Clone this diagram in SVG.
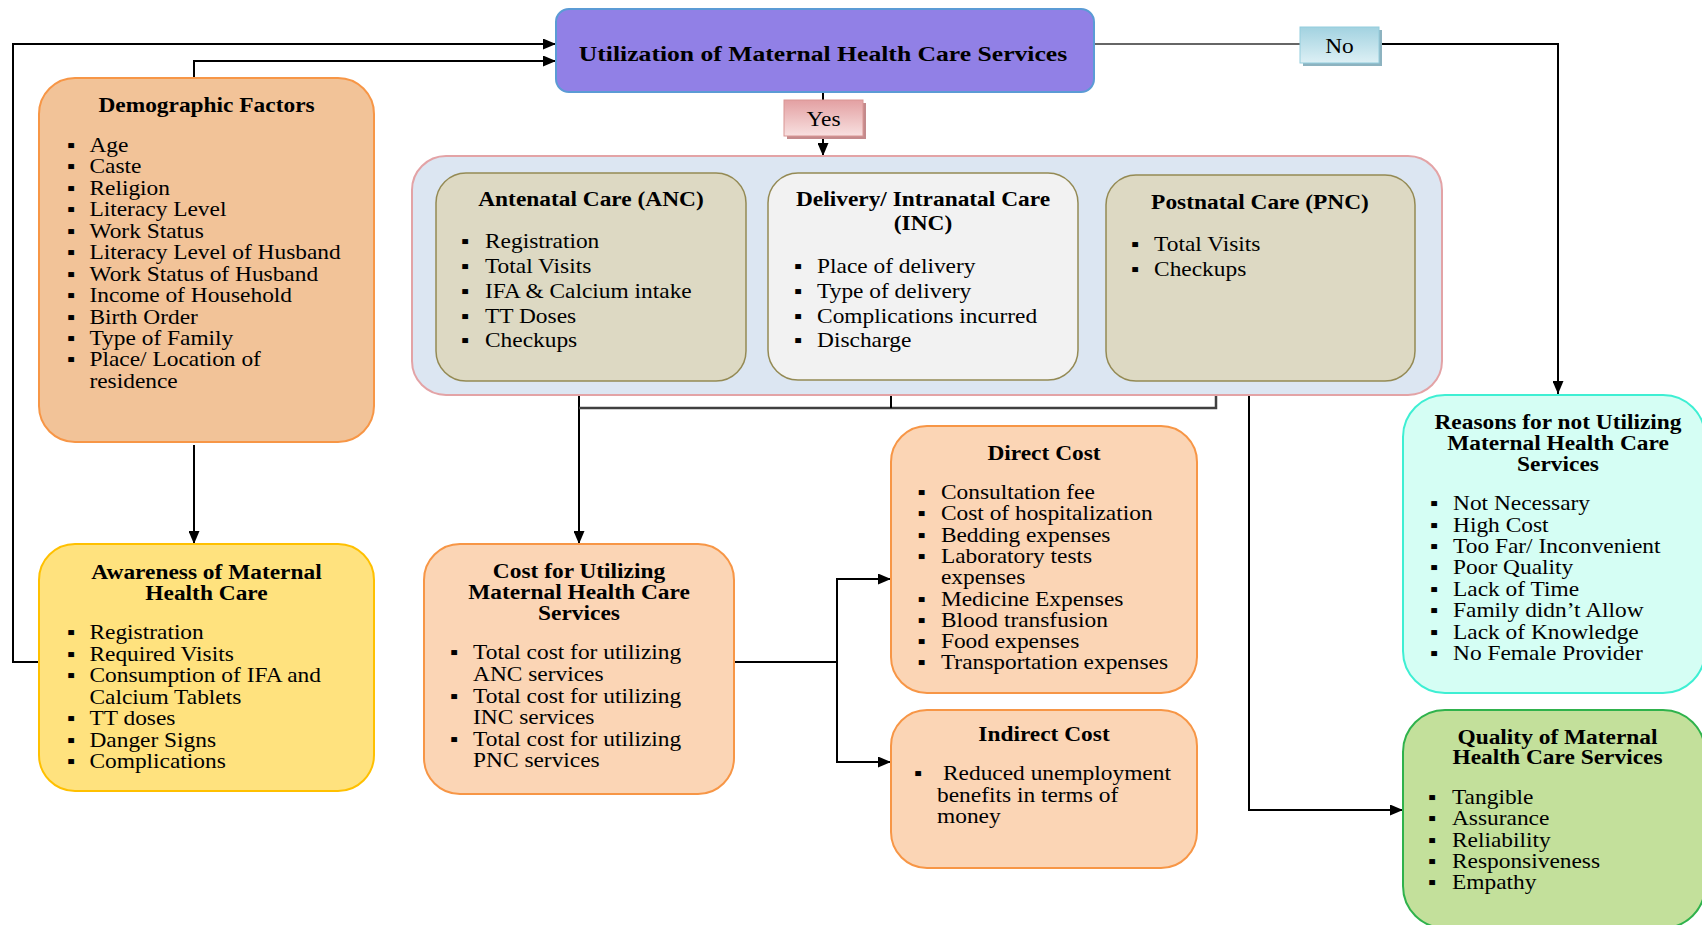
<svg xmlns="http://www.w3.org/2000/svg" width="1702" height="925" viewBox="0 0 1702 925">
<defs>
<style>
text{font-family:"Liberation Serif","Times New Roman",serif;font-size:20px;fill:#000}
.h{font-weight:bold;text-anchor:middle}
.ln{fill:none;stroke:#000;stroke-width:2}
.lg{fill:none;stroke:#404040;stroke-width:2.5}
.ar{marker-end:url(#ah)}
.peach{fill:#FBD5B5;stroke:#F79646;stroke-width:2}
.olive{fill:#DDD9C3;stroke:#948A54;stroke-width:1.5}
</style>
<marker id="ah" markerUnits="userSpaceOnUse" markerWidth="13" markerHeight="11" refX="13" refY="5.5" orient="auto"><path d="M0,0L13,5.5L0,11z" fill="#000"/></marker>
<linearGradient id="gy" x1="0" y1="0" x2="0" y2="1"><stop offset="0" stop-color="#E3A0A2"/><stop offset="1" stop-color="#F8E0E0"/></linearGradient>
<linearGradient id="gn" x1="0" y1="0" x2="0" y2="1"><stop offset="0" stop-color="#A2D2E0"/><stop offset="1" stop-color="#DDF0F5"/></linearGradient>
</defs>
<rect width="1702" height="925" fill="#fff"/>

<g id="connectors">
<path class="ln ar" d="M39,662H13V44H556"/>
<path class="ln ar" d="M194,78V61H556"/>
<path class="ln ar" d="M194,445V544"/>
<path class="ln" d="M823,92V100"/>
<path class="ln ar" d="M823,137V156"/>
<path class="ln" d="M1094,44H1300" style="stroke:#333;stroke-width:1.5"/>
<path class="ln ar" d="M1379,44H1558V394"/>
<path class="ln ar" d="M579,381V544"/>
<path class="lg" d="M579,408H1216V381"/>
<path class="ln" d="M891,380V408"/>
<path class="ln ar" d="M1249,395V810H1403"/>
<path class="ln" d="M734,662H837"/>
<path class="ln ar" d="M837,662V579H891"/>
<path class="ln ar" d="M837,662V762H891"/>
</g>

<g id="utilization">
<rect x="556" y="9" width="538" height="83" rx="13" fill="#9180E6" stroke="#5B9BD5" stroke-width="2"/>
<text class="h" style="font-size:22px" transform="translate(823 61) scale(1.165 1)">Utilization of Maternal Health Care Services</text>
</g>

<g id="yes">
<rect x="787" y="103" width="79" height="36" fill="#C48A8C"/>
<rect x="784" y="100" width="79" height="36" fill="url(#gy)" stroke="#D99694" stroke-width="1"/>
<text style="text-anchor:middle" transform="translate(823.5 126) scale(1.17 1)">Yes</text>
</g>

<g id="no">
<rect x="1303" y="30" width="79" height="36" fill="#8DB3C0"/>
<rect x="1300" y="27" width="79" height="36" fill="url(#gn)" stroke="#93CDDD" stroke-width="1"/>
<text style="text-anchor:middle" transform="translate(1339.5 53) scale(1.17 1)">No</text>
</g>

<g id="demographic">
<rect x="39" y="78" width="335" height="364" rx="36" fill="#F2C398" stroke="#F79646" stroke-width="2"/>
<g transform="translate(0 1.5)">
<text class="h" transform="translate(206.5 110) scale(1.17 1)">Demographic Factors</text>
<text transform="translate(67 0) scale(1.17 1)">
<tspan x="0" y="150.5">▪</tspan><tspan x="19.2">Age</tspan>
<tspan x="0" y="172">▪</tspan><tspan x="19.2">Caste</tspan>
<tspan x="0" y="193.4">▪</tspan><tspan x="19.2">Religion</tspan>
<tspan x="0" y="214.9">▪</tspan><tspan x="19.2">Literacy Level</tspan>
<tspan x="0" y="236.3">▪</tspan><tspan x="19.2">Work Status</tspan>
<tspan x="0" y="257.8">▪</tspan><tspan x="19.2">Literacy Level of Husband</tspan>
<tspan x="0" y="279.2">▪</tspan><tspan x="19.2">Work Status of Husband</tspan>
<tspan x="0" y="300.7">▪</tspan><tspan x="19.2">Income of Household</tspan>
<tspan x="0" y="322.1">▪</tspan><tspan x="19.2">Birth Order</tspan>
<tspan x="0" y="343.6">▪</tspan><tspan x="19.2">Type of Family</tspan>
<tspan x="0" y="365">▪</tspan><tspan x="19.2">Place/ Location of</tspan>
<tspan x="19.2" y="386.5">residence</tspan>
</text>
</g>
</g>

<g id="awareness">
<rect x="39" y="544" width="335" height="247" rx="36" fill="#FFE27E" stroke="#FFC000" stroke-width="2"/>
<g transform="translate(0 1.5)">
<text class="h" transform="translate(206.5 577) scale(1.17 1)"><tspan x="0">Awareness of Maternal</tspan><tspan x="0" dy="21.5">Health Care</tspan></text>
<text transform="translate(67 0) scale(1.17 1)">
<tspan x="0" y="638">▪</tspan><tspan x="19.2">Registration</tspan>
<tspan x="0" y="659.5">▪</tspan><tspan x="19.2">Required Visits</tspan>
<tspan x="0" y="681">▪</tspan><tspan x="19.2">Consumption of IFA and</tspan>
<tspan x="19.2" y="702.5">Calcium Tablets</tspan>
<tspan x="0" y="724">▪</tspan><tspan x="19.2">TT doses</tspan>
<tspan x="0" y="745.5">▪</tspan><tspan x="19.2">Danger Signs</tspan>
<tspan x="0" y="767">▪</tspan><tspan x="19.2">Complications</tspan>
</text>
</g>
</g>

<g id="care-group">
<rect x="412" y="156" width="1030" height="239" rx="34" fill="#DCE6F2" stroke="#E3A3A6" stroke-width="2"/>
</g>

<g id="anc">
<rect x="436" y="173" width="310" height="208" rx="30" class="olive"/>
<g transform="translate(0 1.5)">
<text class="h" transform="translate(591 204) scale(1.17 1)">Antenatal Care (ANC)</text>
<text transform="translate(461 0) scale(1.17 1)">
<tspan x="0" y="247">▪</tspan><tspan x="20.5">Registration</tspan>
<tspan x="0" y="272">▪</tspan><tspan x="20.5">Total Visits</tspan>
<tspan x="0" y="297">▪</tspan><tspan x="20.5">IFA &amp; Calcium intake</tspan>
<tspan x="0" y="321.5">▪</tspan><tspan x="20.5">TT Doses</tspan>
<tspan x="0" y="346">▪</tspan><tspan x="20.5">Checkups</tspan>
</text>
</g>
</g>

<g id="inc">
<rect x="768" y="173" width="310" height="207" rx="30" fill="#F2F2F2" stroke="#948A54" stroke-width="1.5"/>
<g transform="translate(0 1.5)">
<text class="h" transform="translate(923 204) scale(1.17 1)"><tspan x="0">Delivery/ Intranatal Care</tspan><tspan x="0" dy="25">(INC)</tspan></text>
<text transform="translate(794 0) scale(1.17 1)">
<tspan x="0" y="272">▪</tspan><tspan x="19.7">Place of delivery</tspan>
<tspan x="0" y="297">▪</tspan><tspan x="19.7">Type of delivery</tspan>
<tspan x="0" y="321.5">▪</tspan><tspan x="19.7">Complications incurred</tspan>
<tspan x="0" y="346">▪</tspan><tspan x="19.7">Discharge</tspan>
</text>
</g>
</g>

<g id="pnc">
<rect x="1106" y="175" width="309" height="206" rx="30" class="olive"/>
<g transform="translate(0 1.5)">
<text class="h" transform="translate(1260 207) scale(1.17 1)">Postnatal Care (PNC)</text>
<text transform="translate(1131 0) scale(1.17 1)">
<tspan x="0" y="250">▪</tspan><tspan x="19.7">Total Visits</tspan>
<tspan x="0" y="275">▪</tspan><tspan x="19.7">Checkups</tspan>
</text>
</g>
</g>

<g id="cost">
<rect x="424" y="544" width="310" height="250" rx="36" class="peach"/>
<g transform="translate(0 1.5)">
<text class="h" transform="translate(579 576) scale(1.17 1)"><tspan x="0">Cost for Utilizing</tspan><tspan x="0" dy="21.5">Maternal Health Care</tspan><tspan x="0" dy="21.5">Services</tspan></text>
<text transform="translate(450 0) scale(1.17 1)">
<tspan x="0" y="658">▪</tspan><tspan x="19.7">Total cost for utilizing</tspan>
<tspan x="19.7" y="680">ANC services</tspan>
<tspan x="0" y="701.5">▪</tspan><tspan x="19.7">Total cost for utilizing</tspan>
<tspan x="19.7" y="723">INC services</tspan>
<tspan x="0" y="744.5">▪</tspan><tspan x="19.7">Total cost for utilizing</tspan>
<tspan x="19.7" y="766">PNC services</tspan>
</text>
</g>
</g>

<g id="direct-cost">
<rect x="891" y="426" width="306" height="267" rx="36" class="peach"/>
<g transform="translate(0 1.5)">
<text class="h" transform="translate(1044 458) scale(1.17 1)">Direct Cost</text>
<text transform="translate(917.5 0) scale(1.17 1)">
<tspan x="0" y="498">▪</tspan><tspan x="20">Consultation fee</tspan>
<tspan x="0" y="519">▪</tspan><tspan x="20">Cost of hospitalization</tspan>
<tspan x="0" y="540.5">▪</tspan><tspan x="20">Bedding expenses</tspan>
<tspan x="0" y="562">▪</tspan><tspan x="20">Laboratory tests</tspan>
<tspan x="20" y="583">expenses</tspan>
<tspan x="0" y="604.5">▪</tspan><tspan x="20">Medicine Expenses</tspan>
<tspan x="0" y="626">▪</tspan><tspan x="20">Blood transfusion</tspan>
<tspan x="0" y="647">▪</tspan><tspan x="20">Food expenses</tspan>
<tspan x="0" y="668">▪</tspan><tspan x="20">Transportation expenses</tspan>
</text>
</g>
</g>

<g id="indirect-cost">
<rect x="891" y="710" width="306" height="158" rx="36" class="peach"/>
<g transform="translate(0 1.5)">
<text class="h" transform="translate(1044 739) scale(1.17 1)">Indirect Cost</text>
<text transform="translate(914 0) scale(1.17 1)">
<tspan x="0" y="779">▪</tspan><tspan x="24.8">Reduced unemployment</tspan>
<tspan x="19.7" y="801">benefits in terms of</tspan>
<tspan x="19.7" y="822">money</tspan>
</text>
</g>
</g>

<g id="reasons">
<rect x="1403" y="395" width="302" height="298" rx="42" fill="#D5FEF4" stroke="#3EEFD3" stroke-width="2"/>
<g transform="translate(0 1.5)">
<text class="h" transform="translate(1558 427.5) scale(1.17 1)"><tspan x="0">Reasons for not Utilizing</tspan><tspan x="0" dy="21">Maternal Health Care</tspan><tspan x="0" dy="21">Services</tspan></text>
<text transform="translate(1430 0) scale(1.17 1)">
<tspan x="0" y="509">▪</tspan><tspan x="19.7">Not Necessary</tspan>
<tspan x="0" y="530.5">▪</tspan><tspan x="19.7">High Cost</tspan>
<tspan x="0" y="552">▪</tspan><tspan x="19.7">Too Far/ Inconvenient</tspan>
<tspan x="0" y="573">▪</tspan><tspan x="19.7">Poor Quality</tspan>
<tspan x="0" y="594.5">▪</tspan><tspan x="19.7">Lack of Time</tspan>
<tspan x="0" y="616">▪</tspan><tspan x="19.7">Family didn’t Allow</tspan>
<tspan x="0" y="637.5">▪</tspan><tspan x="19.7">Lack of Knowledge</tspan>
<tspan x="0" y="659">▪</tspan><tspan x="19.7">No Female Provider</tspan>
</text>
</g>
</g>

<g id="quality">
<rect x="1403" y="710" width="302" height="218" rx="42" fill="#C3E09B" stroke="#2FB24C" stroke-width="2"/>
<g transform="translate(0 1.5)">
<text class="h" transform="translate(1557.5 742) scale(1.17 1)"><tspan x="0">Quality of Maternal</tspan><tspan x="0" dy="21">Health Care Services</tspan></text>
<text transform="translate(1428 0) scale(1.17 1)">
<tspan x="0" y="803">▪</tspan><tspan x="20.5">Tangible</tspan>
<tspan x="0" y="824">▪</tspan><tspan x="20.5">Assurance</tspan>
<tspan x="0" y="845.5">▪</tspan><tspan x="20.5">Reliability</tspan>
<tspan x="0" y="867">▪</tspan><tspan x="20.5">Responsiveness</tspan>
<tspan x="0" y="888">▪</tspan><tspan x="20.5">Empathy</tspan>
</text>
</g>
</g>
</svg>
